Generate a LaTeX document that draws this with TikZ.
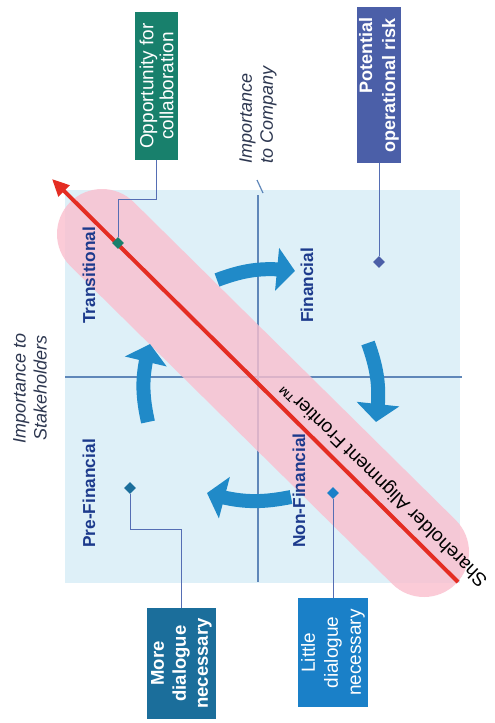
\documentclass[tikz,border=0pt]{standalone}
\usepackage{fontspec}
\setmainfont{Liberation Sans}
\usetikzlibrary{arrows.meta,shapes.geometric,bending}
\definecolor{bgblue}{RGB}{222,240,248}
\definecolor{axisc}{RGB}{95,135,185}
\definecolor{bandpink}{RGB}{250,190,206}
\definecolor{redl}{RGB}{228,45,35}
\definecolor{cycblue}{RGB}{32,138,200}
\definecolor{navyc}{RGB}{28,58,140}
\definecolor{titlec}{RGB}{45,55,80}
\definecolor{conn}{RGB}{85,110,180}
\definecolor{cteal}{RGB}{24,128,108}
\definecolor{cslate}{RGB}{75,95,168}
\definecolor{cdark}{RGB}{27,110,155}
\definecolor{cbright}{RGB}{26,128,200}
\begin{document}
\begin{tikzpicture}[x=1pt,y=1pt,
  box/.style={rotate=90, draw=none, text=white, align=center, inner sep=2pt},
  quad/.style={rotate=90, anchor=west, text=navyc, font=\fontsize{17.3}{20}\selectfont\bfseries, inner sep=0pt},
  ttl/.style={rotate=90, text=titlec, font=\fontsize{18}{21}\selectfont\itshape, inner sep=0pt},
  dmd/.style={diamond, inner sep=0pt, minimum size=12pt},
  cyc/.style={cycblue, line width=14pt, -{Triangle[length=18pt 0 0, width=42pt 0 0]}},
  link/.style={conn, line width=1pt},
  ax/.style={axisc, line width=1.2pt}]
\useasboundingbox (0,0) rectangle (495,-723);
\fill[white] (0,0) rectangle (495,-723);
\fill[bgblue] (65,-190) rectangle (460,-583);
\coordinate (C) at (258,-377);
% axes
\coordinate (xl) at (65,-377);
\coordinate (xr) at (462,-377);
\coordinate (yt) at (258,-195);
\coordinate (yb) at (258,-582);
\coordinate (t1) at (257,-180);
\coordinate (t2) at (263,-193);
\draw[ax] (xl) -- (xr);
\draw[ax] (yt) -- (yb);
\draw[ax] (t1) -- (t2);
% pink band
\coordinate (bs) at (102,-234);
\coordinate (be) at (424,-552);
\draw[bandpink, opacity=0.8, line width=90pt, line cap=round] (bs) -- (be);
% red frontier line
\coordinate (fs) at (458,-582);
\coordinate (fe) at (52,-179);
\draw[redl, line width=4pt, -{Triangle[length=17pt 0 0, width=15pt 0 0]}] (fs) -- (fe);
% cycle arrows
\coordinate (a1s) at (217,-280); \coordinate (a1e) at (295,-271);
\coordinate (a2s) at (368,-343); \coordinate (a2e) at (376,-422);
\coordinate (a3s) at (291,-497); \coordinate (a3e) at (207,-493);
\coordinate (a4s) at (148,-422); \coordinate (a4e) at (150,-344);
\draw[cyc] (a1s) to[bend left=14] (a1e);
\draw[cyc] (a2s) to[bend left=14] (a2e);
\draw[cyc] (a3s) to[bend left=14] (a3e);
\draw[cyc] (a4s) to[bend left=14] (a4e);
% diamonds
\node[dmd, fill=cteal] (d1) at (118,-243) {};
\node[dmd, fill=cslate] (d2) at (379,-262) {};
\node[dmd, fill=cdark] (d3) at (130,-488) {};
\node[dmd, fill=cbright] (d4) at (333,-493) {};
% boxes
\node[box, fill=cteal, minimum width=148pt, minimum height=43pt, font=\fontsize{19}{20}\selectfont] (b1) at (156.5,-86) {Opportunity for\\collaboration};
\node[box, fill=cslate, minimum width=156pt, minimum height=44pt, align=right, font=\bfseries\fontsize{18}{23}\selectfont] (b2) at (379,-85) {Potential\\operational risk};
\node[box, fill=cdark, minimum width=111pt, minimum height=69pt, font=\bfseries\fontsize{18.5}{22}\selectfont] (b3) at (181.5,-663.5) {More\\dialogue\\necessary};
\node[box, fill=cbright, minimum width=109pt, minimum height=70pt, font=\fontsize{19}{23}\selectfont] (b4) at (333,-652.5) {Little\\dialogue\\necessary};
% connectors
\coordinate (k1) at (118,-199);
\coordinate (k3) at (130,-529);
\draw[link] (b1.west) |- (k1) -- (d1);
\draw[link] (b2.west) -- (d2);
\draw[link] (d3) -- (k3) -| (b3.east);
\draw[link] (d4) -- (b4.east);
% quadrant labels
\node[quad] (qT) at (89,-324) {Transitional};
\node[quad] (qF) at (307,-323) {Financial};
\node[quad] (qP) at (89,-548) {Pre-Financial};
\node[quad] (qN) at (299,-548) {Non-Financial};
% axis titles
\node[ttl, align=left, anchor=west] (tC) at (258,-164) {Importance\\to Company};
\node[ttl, align=center] (tS) at (30,-388) {Importance to\\Stakeholders};
% frontier label
\node[rotate=135.5, font=\fontsize{19}{22}\selectfont, text=black, inner sep=0pt] (sf) at (384,-484) {Shareholder Alignment Frontier™};
\end{tikzpicture}
\end{document}
